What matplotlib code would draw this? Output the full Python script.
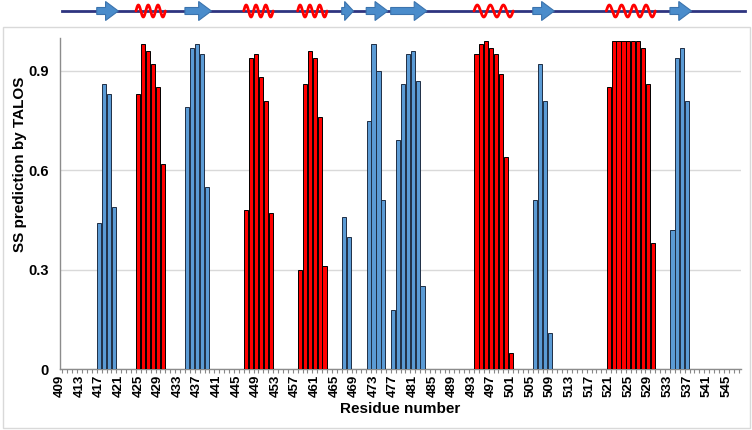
import numpy as np
import matplotlib
matplotlib.use('Agg')
import matplotlib.pyplot as plt
from matplotlib.patches import Polygon, Rectangle

# TALOS secondary structure prediction per residue
strand_res = [417, 418, 419, 420,
              435, 436, 437, 438, 439,
              467, 468,
              472, 473, 474, 475,
              477, 478, 479, 480, 481, 482, 483,
              506, 507, 508, 509,
              534, 535, 536, 537]
strand_val = [0.44, 0.86, 0.83, 0.49,
              0.79, 0.97, 0.98, 0.95, 0.55,
              0.46, 0.40,
              0.75, 0.98, 0.90, 0.51,
              0.18, 0.69, 0.86, 0.95, 0.96, 0.87, 0.25,
              0.51, 0.92, 0.81, 0.11,
              0.42, 0.94, 0.97, 0.81]

helix_res = [425, 426, 427, 428, 429, 430,
             447, 448, 449, 450, 451, 452,
             458, 459, 460, 461, 462, 463,
             494, 495, 496, 497, 498, 499, 500, 501,
             521, 522, 523, 524, 525, 526, 527, 528, 529, 530]
helix_val = [0.83, 0.98, 0.96, 0.92, 0.85, 0.62,
             0.48, 0.94, 0.95, 0.88, 0.81, 0.47,
             0.30, 0.86, 0.96, 0.94, 0.76, 0.31,
             0.95, 0.98, 0.99, 0.97, 0.95, 0.89, 0.64, 0.05,
             0.85, 0.99, 0.99, 0.99, 0.99, 0.99, 0.99, 0.97, 0.86, 0.38]

# schematic elements (first, last residue)
strands = [(417, 420), (435, 439), (467, 468), (472, 475), (477, 483), (506, 509), (534, 537)]
helices = [(425, 430), (447, 452), (458, 463), (494, 501), (521, 530)]

x_start, x_end = 409, 548
tick_res = np.arange(409, 546, 4)

plt.rcParams['font.family'] = ['Liberation Sans', 'DejaVu Sans']

W, H = 752, 430
fig = plt.figure(figsize=(W / 100, H / 100), dpi=100)

# outer chart frame
fig.patches.append(Rectangle((3 / W, 2 / H), 747 / W, 401 / H, transform=fig.transFigure,
                             fill=False, ec='#d9d9d9', lw=1))

ax = fig.add_axes([60 / W, (H - 369.3) / H, 681 / W, 331.7 / H])
ax.bar(strand_res, strand_val, width=0.86, color='#5b9bd5', edgecolor='#1f2f45', linewidth=0.7, zorder=3)
ax.bar(helix_res, helix_val, width=0.86, color='#ff0000', edgecolor='#000000', linewidth=0.7, zorder=3)

ax.set_xlim(x_start, x_end)
ax.set_ylim(0, 1)
ax.set_yticks([0, 0.3, 0.6, 0.9])
ax.set_yticklabels(['0', '0.3', '0.6', '0.9'], fontweight='bold')
ax.yaxis.grid(True, color='#d9d9d9', lw=1)
ax.set_axisbelow(True)
ax.tick_params(axis='y', length=0, pad=8, labelsize=10.5)

ax.set_xticks(tick_res)
ax.set_xticklabels([str(r) for r in tick_res], rotation=90, fontweight='bold')
ax.set_xticks(np.arange(x_start + 0.5, x_end, 1), minor=True)
ax.tick_params(axis='x', which='major', length=0, labelsize=9.5, pad=4)
ax.tick_params(axis='x', which='minor', length=3, color='#888888', width=0.8)

for s in ['top', 'right']:
    ax.spines[s].set_visible(False)
for s in ['left', 'bottom']:
    ax.spines[s].set_color('#8c8c8c')
    ax.spines[s].set_linewidth(1)

fig.text(20 / W, (H - 164) / H, 'SS prediction by TALOS', rotation=90, ha='center', va='center',
         fontsize=11, fontweight='bold')
fig.text(400 / W, (H - 409) / H, 'Residue number', ha='center', va='center',
         fontsize=11, fontweight='bold')

# secondary structure schematic above the chart
sa = fig.add_axes([60 / W, (H - 27) / H, 681 / W, 27 / H])
sa.set_xlim(x_start, x_end)
sa.set_ylim(0, 27)
sa.axis('off')
yl = 16
sa.plot([x_start + 0.4, x_end + 0.8], [yl, yl], color='#2e3480', lw=2, clip_on=False, zorder=1)

for a, b in strands:
    x0, x1 = a - 0.5, b + 0.9
    h = min(2.6, 0.75 * (x1 - x0))
    pts = [(x0, yl - 3.5), (x1 - h, yl - 3.5), (x1 - h, yl - 9.5), (x1, yl),
           (x1 - h, yl + 9.5), (x1 - h, yl + 3.5), (x0, yl + 3.5)]
    sa.add_patch(Polygon(pts, closed=True, fc='#4a8ccb', ec='#3b73ad', lw=0.8, zorder=2))

for a, b in helices:
    x0, x1 = a - 0.5, b + 0.5
    n = max(3, round((b - a + 1) / 2.4))
    xs = np.linspace(x0, x1, 200)
    ys = yl + 6 * np.sin(2 * np.pi * n * (xs - x0) / (x1 - x0))
    sa.plot(xs, ys, color='#ff0000', lw=2, zorder=3, solid_capstyle='round')

fig.savefig('out.png', dpi=100)
